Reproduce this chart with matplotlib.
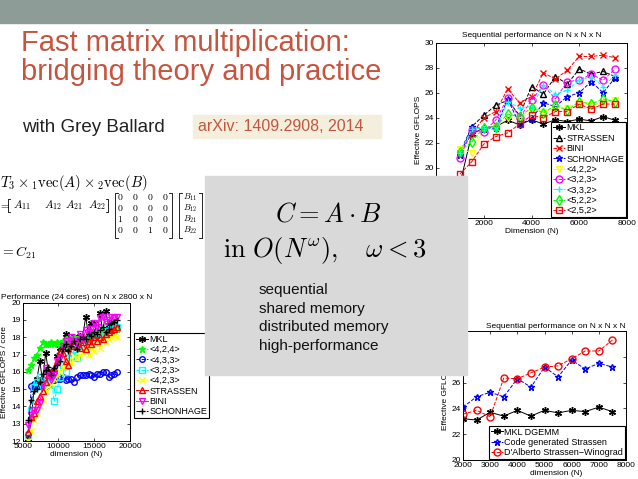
import numpy as np
import matplotlib
matplotlib.use('Agg')
import matplotlib.pyplot as plt
from matplotlib.patches import Rectangle
from matplotlib.lines import Line2D

plt.rcParams['font.family'] = 'Liberation Sans'
plt.rcParams['mathtext.fontset'] = 'cm'

# ---- data: sequential N x N x N (top right) ----
seq_n = [1000, 1500, 2000, 2500, 3000, 3500, 4000, 4500, 5000, 5500, 6000, 6500, 7000, 7500]
seq_mkl = [18.7, 22.7, 23.2, 23.3, 23.8, 23.45, 23.85, 23.5, 23.85, 23.7, 23.9, 23.75, 24.1, 23.8]
seq_strassen = [21.2, 23.3, 24.2, 25.0, 25.4, 24.2, 26.5, 25.9, 27.3, 26.7, 27.9, 27.5, 27.7, 27.3]
seq_bini = [21.2, 22.7, 24.0, 24.5, 26.3, 25.2, 25.7, 27.6, 27.1, 27.8, 28.9, 28.9, 29.0, 28.8]
seq_schon = [21.0, 23.3, 23.1, 23.2, 25.5, 23.5, 23.9, 25.2, 24.9, 25.7, 26.0, 26.9, 26.0, 27.2]
seq_422 = [21.5, 21.2, 23.1, 23.3, 24.0, 24.0, 24.8, 24.5, 24.8, 24.8, 25.2, 25.0, 25.2, 25.4]
seq_323 = [20.8, 23.0, 22.9, 23.8, 25.6, 24.0, 25.4, 26.6, 25.5, 26.9, 27.0, 27.5, 27.0, 27.9]
seq_332 = [21.2, 23.1, 23.2, 23.0, 25.3, 24.8, 24.9, 26.6, 25.9, 26.2, 27.0, 27.3, 26.5, 27.4]
seq_522 = [21.3, 22.1, 23.2, 23.3, 24.3, 24.1, 24.8, 24.4, 25.0, 24.6, 25.3, 25.1, 25.5, 25.3]
seq_252 = [19.5, 20.5, 21.9, 22.5, 22.8, 23.5, 24.2, 24.0, 24.5, 24.5, 25.1, 24.7, 25.1, 25.1]

# ---- data: 24 cores, N x 2800 x N (bottom left) ----
par_n = list(range(5800, 18201, 400))
par_mkl = [12.1, 13.3, 15.0, 15.6, 16.6, 15.4, 17.1, 16.0, 16.0, 15.8, 16.9, 17.4, 17.5, 18.2, 17.3, 17.9,
           18.0, 17.4, 18.1, 18.0, 19.2, 18.1, 18.8, 18.8, 18.1, 19.4, 18.3, 19.5, 18.7, 18.9, 18.7, 18.6]
par_424 = [16.1, 16.4, 16.8, 17.0, 17.4, 17.7, 17.6, 17.6, 17.7, 17.6, 17.7, 17.6, 17.8, 17.9, 17.5, 17.9,
           18.0, 17.7, 18.0, 18.1, 17.9, 18.2, 18.0, 18.3, 18.2, 18.3, 18.4, 18.2, 18.5, 18.4, 18.6, 18.5]
par_433 = [12.4, 15.2, 15.3, 15.2, 15.3, 15.2, 15.1, 15.4, 15.5, 15.5, 15.6, 15.6, 15.7, 15.5, 15.6, 15.6,
           15.4, 15.7, 15.8, 15.8, 15.8, 15.9, 15.8, 15.7, 15.9, 15.9, 16.0, 16.0, 15.7, 15.8, 15.9, 16.0]
par_323 = [12.3, 13.8, 15.1, 15.4, 15.7, 15.2, 15.5, 15.3, 15.6, 14.3, 15.0, 15.7, 16.4, 16.0, 16.8, 16.9,
           17.3, 16.8, 17.6, 17.5, 17.9, 17.5, 17.7, 18.0, 17.9, 18.3, 18.4, 18.3, 18.2, 18.5, 18.5, 18.6]
par_423 = [12.0, 12.6, 13.2, 13.6, 14.0, 14.4, 14.9, 15.2, 15.3, 15.6, 15.8, 16.0, 16.3, 16.4, 16.7, 16.5,
           16.9, 16.8, 17.0, 17.1, 17.3, 17.0, 17.4, 17.2, 17.6, 17.4, 17.8, 17.7, 17.9, 18.0, 18.1, 18.0]
par_strassen = [12.5, 13.4, 13.6, 14.3, 14.6, 14.9, 15.4, 15.8, 16.0, 16.2, 16.6, 17.2, 17.1, 16.6, 16.4, 17.5,
                17.6, 17.8, 17.4, 17.7, 17.3, 17.8, 17.6, 18.0, 17.8, 18.0, 17.9, 18.2, 18.3, 18.4, 18.5, 18.6]
par_bini = [12.9, 13.5, 13.8, 13.8, 14.2, 15.3, 16.2, 15.8, 15.5, 15.8, 16.6, 16.8, 17.5, 17.8, 17.6, 18.0,
            17.8, 17.6, 18.2, 17.9, 18.4, 18.3, 18.5, 18.8, 18.6, 19.1, 19.2, 18.9, 19.0, 19.2, 19.1, 19.2]
par_schon = [13.2, 14.4, 14.9, 15.0, 15.4, 15.9, 16.1, 16.3, 15.8, 16.2, 16.4, 16.6, 17.3, 17.6, 17.2, 17.5,
             17.8, 17.3, 17.9, 18.0, 17.9, 18.2, 18.1, 18.3, 18.2, 18.4, 18.6, 18.3, 18.5, 18.8, 18.9, 19.0]

# ---- data: sequential, code generated vs D'Alberto (bottom right) ----
old_n = [2000, 2500, 3000, 3500, 4000, 4500, 5000, 5500, 6000, 6500, 7000, 7500]
old_mkl = [23.2, 23.1, 23.7, 23.4, 23.85, 23.4, 23.85, 23.65, 23.85, 23.75, 24.1, 23.75]
old_gen = [24.1, 24.9, 25.25, 24.9, 26.3, 25.65, 27.2, 26.45, 27.75, 27.05, 27.5, 27.2]
old_dalb = [23.55, 23.85, 23.35, 26.35, 26.3, 26.75, 27.2, 27.3, 27.85, 28.45, 28.45, 29.3]

# tensor example
row_vec = ['A_{11}', 'A_{12}', 'A_{21}', 'A_{22}']
col_vec = ['B_{11}', 'B_{12}', 'B_{21}', 'B_{22}']
mat = [[0, 0, 0, 0], [0, 0, 0, 0], [1, 0, 0, 0], [0, 0, 1, 0]]
bullets = ['sequential', 'shared memory', 'distributed memory', 'high-performance']

W, H = 638, 479
fig = plt.figure(figsize=(W / 100, H / 100), dpi=100)


def fx(x):
    return x / W


def fy(y):
    return 1 - y / H


def box(x0, y0, x1, y1):
    return [fx(x0), fy(y1), fx(x1) - fx(x0), fy(y0) - fy(y1)]


ASTER = (6, 2, 0)
fs = 6


def style(ax):
    ax.tick_params(direction='in', top=True, right=True, length=2.5, width=0.5,
                   labelsize=fs, pad=1.5)
    for s in ax.spines.values():
        s.set_linewidth(0.7)


def legend(ax, **kw):
    lg = ax.legend(fontsize=fs + 0.5, fancybox=False, framealpha=1, edgecolor='black',
                   handlelength=1.3, handletextpad=0.2, labelspacing=0.15,
                   borderpad=0.2, **kw)
    lg.get_frame().set_linewidth(0.8)
    return lg


# top bar
fig.add_artist(Rectangle((0, fy(23)), 1, 23 / H, transform=fig.transFigure,
                         color='#8e9c98', zorder=0))

# title block
red = '#c6553f'
fig.text(fx(21), fy(51), 'Fast matrix multiplication:', fontsize=21, color=red, va='baseline')
fig.text(fx(21), fy(80), 'bridging theory and practice', fontsize=21, color=red, va='baseline')
fig.text(fx(22), fy(132), 'with Grey Ballard', fontsize=13.5, color='#222222', va='baseline')
fig.add_artist(Rectangle((fx(193), fy(138)), fx(381) - fx(193), (138 - 115) / H,
                         transform=fig.transFigure, color='#f4efdc', zorder=1))
fig.text(fx(198), fy(131), 'arXiv: 1409.2908, 2014', fontsize=11.5, color=red, va='baseline', zorder=2)

# ---- top right chart ----
ax1 = fig.add_axes(box(436, 42.7, 627, 218))
ms = 4
lw = 0.7
ax1.plot(seq_n, seq_mkl, '-', color='black', marker=ASTER, ms=ms + 1, lw=lw, label='MKL')
ax1.plot(seq_n, seq_strassen, '--', color='black', marker='^', mfc='none', ms=ms + 1, lw=lw, label='STRASSEN')
ax1.plot(seq_n, seq_bini, '--', color='red', marker='x', ms=ms, lw=lw, label='BINI')
ax1.plot(seq_n, seq_schon, '--', color='blue', marker='*', mfc='none', ms=ms + 1, lw=lw, label='SCHONHAGE')
ax1.plot(seq_n, seq_422, '--', color='#ffff00', marker='v', mfc='none', ms=ms + 1, lw=lw, label='<4,2,2>')
ax1.plot(seq_n, seq_323, '--', color='magenta', marker='o', mfc='none', ms=ms + 1, lw=lw, label='<3,2,3>')
ax1.plot(seq_n, seq_332, '--', color='cyan', marker='+', ms=ms + 1, lw=lw, label='<3,3,2>')
ax1.plot(seq_n, seq_522, '--', color='#00ff00', marker='d', mfc='none', ms=ms + 1, lw=lw, label='<5,2,2>')
ax1.plot(seq_n, seq_252, '--', color='red', marker='s', mfc='none', ms=ms, lw=lw, label='<2,5,2>')
ax1.set_xlim(0, 8000)
ax1.set_ylim(16, 30)
ax1.set_xticks([0, 2000, 4000, 6000, 8000])
ax1.set_yticks(range(16, 31, 2))
style(ax1)
ax1.set_title('Sequential performance on N x N x N', fontsize=fs, pad=4)
ax1.set_xlabel('Dimension (N)', fontsize=fs, labelpad=1)
ax1.set_ylabel('Effective GFLOPS', fontsize=fs, labelpad=2)
legend(ax1, loc='lower right', borderaxespad=0.1)

# ---- bottom left chart ----
ax2 = fig.add_axes(box(22.7, 302.7, 130, 441))
ms2 = 4
ax2.plot(par_n, par_mkl, '-', color='black', marker=ASTER, ms=ms2 + 1, lw=lw, label='MKL')
ax2.plot(par_n, par_424, '--', color='#00ff00', marker='*', ms=ms2 + 1, lw=lw, label='<4,2,4>')
ax2.plot(par_n, par_433, '--', color='blue', marker='o', mfc='none', ms=ms2, lw=lw, label='<4,3,3>')
ax2.plot(par_n, par_323, '--', color='cyan', marker='s', mfc='none', ms=ms2, lw=lw, label='<3,2,3>')
ax2.plot(par_n, par_423, '--', color='#ffff00', marker='x', ms=ms2, lw=lw, label='<4,2,3>')
ax2.plot(par_n, par_strassen, '-', color='red', marker='^', mfc='none', ms=ms2 + 1, lw=lw, label='STRASSEN')
ax2.plot(par_n, par_bini, '-', color='magenta', marker='v', mfc='none', ms=ms2 + 1, lw=lw, label='BINI')
ax2.plot(par_n, par_schon, '--', color='black', marker='+', ms=ms2 + 1, lw=lw, label='SCHONHAGE')
ax2.set_xlim(5000, 20000)
ax2.set_ylim(12, 20)
ax2.set_xticks([5000, 10000, 15000, 20000])
ax2.set_yticks(range(12, 21))
style(ax2)
ax2.set_title('Performance (24 cores) on N x 2800 x N', fontsize=fs, pad=3)
ax2.set_xlabel('dimension (N)', fontsize=fs, labelpad=1)
ax2.set_ylabel('Effective GFLOPS / core', fontsize=fs, labelpad=2)
legend(ax2, loc='upper left', bbox_to_anchor=(1.037, 0.781), borderaxespad=0)

# ---- bottom right chart ----
ax3 = fig.add_axes(box(463, 331, 626, 460))
ax3.plot(old_n, old_mkl, '-', color='black', marker=ASTER, ms=ms + 1, lw=lw, label='MKL DGEMM')
ax3.plot(old_n, old_gen, '--', color='blue', marker='*', mfc='none', ms=ms + 1, lw=lw,
         label='Code generated Strassen')
ax3.plot(old_n, old_dalb, '--', color='red', marker='o', mfc='none', ms=ms + 1, lw=lw,
         label="D'Alberto Strassen\u2212Winograd")
ax3.set_xlim(2000, 8000)
ax3.set_ylim(20, 30)
ax3.set_xticks(range(2000, 8001, 1000))
ax3.set_yticks(range(20, 31, 2))
style(ax3)
ax3.set_title('Sequential performance on N x N x N', fontsize=fs, pad=2, x=0.57)
ax3.set_xlabel('dimension (N)', fontsize=fs, labelpad=1, x=0.57)
ax3.set_ylabel('Effective GFLOPS', fontsize=fs, labelpad=2)
legend(ax3, loc='lower right', borderaxespad=0.1)

# ---- tensor equation on the left ----
fig.text(fx(0), fy(187), r'$T_3 \times_1 \mathrm{vec}(A) \times_2 \mathrm{vec}(B)$', fontsize=10.5,
         va='baseline')


def bracket(x0, x1, y0, y1, tick=3):
    for xs in ([x0 + tick, x0, x0, x0 + tick], [x1 - tick, x1, x1, x1 - tick]):
        fig.add_artist(Line2D([fx(v) for v in xs], [fy(v) for v in (y0, y0, y1, y1)],
                              color='black', lw=0.6, transform=fig.transFigure))


fig.text(fx(-1), fy(205.5), r'$=$', fontsize=8, va='center')
bracket(8, 108, 199, 212, tick=2)
for xx, s in zip([21.5, 53, 74, 96.5], row_vec):
    fig.text(fx(xx), fy(205.5), '$%s$' % s, fontsize=8, ha='center', va='center')

rows_y = [197, 208, 219, 230]
cols_x = [120.5, 135, 150, 165]
for r, yy in enumerate(rows_y):
    for c, xx in enumerate(cols_x):
        fig.text(fx(xx), fy(yy), '$%d$' % mat[r][c], fontsize=7, ha='center', va='center')
    fig.text(fx(190.5), fy(yy), '$%s$' % col_vec[r], fontsize=6.3, ha='center', va='center')

bracket(115, 172, 192.5, 238)
bracket(179, 202, 192.5, 238)
fig.text(fx(0), fy(253), r'$=C_{21}$', fontsize=10, va='center')

# ---- grey box ----
fig.add_artist(Rectangle((fx(205), fy(375)), fx(467) - fx(205), (375 - 176) / H,
                         transform=fig.transFigure, color='#d9d9d9', zorder=10))
fig.text(fx(328), fy(215), r'$C = A \cdot B$', fontsize=19, ha='center', va='center', zorder=11)
fig.text(fx(325), fy(250), r'$\mathrm{in}\ O(N^{\omega}),\quad \omega < 3$', fontsize=19,
         ha='center', va='center', zorder=11)
for i, t in enumerate(bullets):
    fig.text(fx(259), fy(290 + 18.7 * i), t, fontsize=11, va='center', color='#111111', zorder=11)

fig.savefig('out.png', dpi=100)
